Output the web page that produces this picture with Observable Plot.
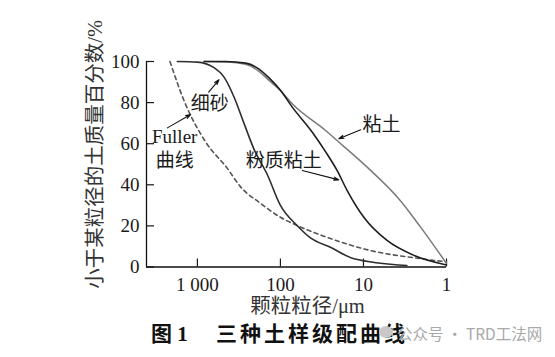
<!DOCTYPE html>
<html><head><meta charset="utf-8">
<script src="https://cdn.jsdelivr.net/npm/d3@7"></script>
<script src="https://cdn.jsdelivr.net/npm/@observablehq/plot@0.6"></script>
<style>
body{margin:0;background:#fff;}
#wrap{position:relative;width:555px;height:357px;overflow:hidden;background:#fff;}
#wrap svg{display:block;}
.cap{position:absolute;top:322px;line-height:21px;font-size:21px;font-weight:bold;color:#111;white-space:nowrap;}
.wm{position:absolute;top:324px;left:397px;line-height:18px;font-size:15.5px;color:#a9a9a9;font-family:'Noto Sans CJK SC',sans-serif;white-space:nowrap;}
.wmi{position:absolute;top:326px;left:379px;width:14px;height:12px;border-radius:50%;background:#c8c8c8;}
</style></head><body><div id="wrap"></div>
<script>
// ---- data ----
const xDomain = [4100, 1];
const yTicks = [0, 20, 40, 60, 80, 100];
const xTicks = [1000, 100, 10, 1];
const xTickLabels = ["1 000", "100", "10", "1"];

const fullerD = [2140, 1450, 800, 436, 302, 174, 100, 63, 30, 8.2, 2, 1];
const fullerP = [100, 81, 61, 48, 39, 31, 24.2, 20.2, 15, 8, 4, 2.5];

const sandD = [1740, 1000, 630, 480, 360, 275, 209, 144, 100, 63, 43, 25, 13, 3];
const sandP = [100, 99.7, 97, 92.5, 82.5, 70, 57.5, 45, 30, 20.2, 14, 9.6, 4, 0.7];

const siltyD = [830, 457, 262, 181, 137, 100, 72, 41.3, 28.5, 20.8, 15.7, 9.9, 5.2, 2.45, 1];
const siltyP = [100, 100, 99.2, 96.3, 92, 86, 77.8, 65.6, 56, 47, 37.2, 24.2, 12.9, 5.6, 1];

const clayD = [830, 457, 262, 181, 137, 100, 72, 28.6, 18.8, 8.2, 4.7, 3.9, 2.05, 1];
const clayP = [100, 99.8, 98.6, 95.2, 90.8, 85.9, 79.4, 66.4, 60, 47, 37.5, 34, 19.4, 1.7];

const labelCJK = ["细砂", "曲线", "粉质粘土", "粘土"];
const labelCJKD = [711, 1876, 91.5, 6.06];
const labelCJKP = [79.6, 51.8, 51.8, 69.3];
const labelLatin = ["Fuller"];
const labelLatinD = [1876];
const labelLatinP = [63.3];

const arrowD1 = [731, 2296, 54.5, 10.8];
const arrowP1 = [85.1, 67.7, 47, 66.8];
const arrowD2 = [550, 1205, 19.8, 19.8];
const arrowP2 = [91.1, 74.2, 42.4, 62.4];

const yLabel = "小于某粒径的土质量百分数/%";
const xLabel = "颗粒粒径/μm";

// ---- build ----
const rows = (D, P) => D.map((d, i) => ({d, p: P[i]}));
const fuller = rows(fullerD, fullerP);
const sand = rows(sandD, sandP);
const silty = rows(siltyD, siltyP);
const clay = rows(clayD, clayP);
const cjkLabels = labelCJK.map((t, i) => ({t, d: labelCJKD[i], p: labelCJKP[i]}));
const latLabels = labelLatin.map((t, i) => ({t, d: labelLatinD[i], p: labelLatinP[i]}));
const arrows = arrowD1.map((d, i) => ({x1: d, y1: arrowP1[i], x2: arrowD2[i], y2: arrowP2[i]}));

const serif = "'Liberation Serif','Noto Sans CJK SC',serif";
const cjk = "'Noto Sans CJK SC',sans-serif";

const chart = Plot.plot({
  width: 555, height: 318,
  marginLeft: 146, marginRight: 109, marginTop: 61, marginBottom: 51.5,
  x: {type: "log", domain: xDomain},
  y: {domain: [0, 100]},
  style: {fontFamily: serif, fontSize: "19px", color: "#1a1a1a", background: "#fff"},
  marks: [
    Plot.axisY(yTicks, {tickSize: -8, tickPadding: 15, fontSize: 19, label: null, strokeWidth: 1.2}),
    Plot.axisX(xTicks, {tickSize: -8, tickPadding: 18.5, fontSize: 19, label: null, strokeWidth: 1.2,
      tickFormat: d => xTickLabels[xTicks.indexOf(d)]}),
    Plot.ruleX([xDomain[0]], {stroke: "#111", strokeWidth: 1.3}),
    Plot.ruleY([0], {stroke: "#111", strokeWidth: 1.3}),
    Plot.line(fuller, {x: "d", y: "p", curve: "monotone-x", stroke: "#555", strokeWidth: 1.6, strokeDasharray: "4,3.5"}),
    Plot.line(clay, {x: "d", y: "p", curve: "monotone-x", stroke: "#7a7a7a", strokeWidth: 1.5}),
    Plot.line(sand, {x: "d", y: "p", curve: "monotone-x", stroke: "#2e2e2e", strokeWidth: 1.6}),
    Plot.line(silty, {x: "d", y: "p", curve: "monotone-x", stroke: "#1e1e1e", strokeWidth: 1.6}),
    Plot.arrow(arrows, {x1: "x1", y1: "y1", x2: "x2", y2: "y2", stroke: "#111", strokeWidth: 1.1, headLength: 7, headAngle: 35}),
    Plot.text(cjkLabels, {x: "d", y: "p", text: "t", fontFamily: cjk, fontSize: 19, fill: "#1a1a1a"}),
    Plot.text(latLabels, {x: "d", y: "p", text: "t", fontFamily: serif, fontSize: 19, fill: "#1a1a1a"}),
    Plot.text([yLabel], {frameAnchor: "left", textAnchor: "middle", lineAnchor: "middle", rotate: -90, dx: -51, dy: -10, fontFamily: serif, fontSize: 20.5, fill: "#333"}),
    Plot.text([xLabel], {frameAnchor: "bottom", textAnchor: "middle", lineAnchor: "middle", dx: 11, dy: 39.5, fontFamily: serif, fontSize: 20.5, fill: "#333"})
  ]
});

const wrap = document.getElementById("wrap");
wrap.appendChild(chart);

const c1 = document.createElement("div");
c1.className = "cap";
c1.style.left = "151px";
c1.innerHTML = "<span style=\"font-family:'Noto Sans CJK SC',sans-serif\">图</span><span style=\"font-family:'Liberation Serif',serif\"> 1</span>";
wrap.appendChild(c1);
const c2 = document.createElement("div");
c2.className = "cap";
c2.style.left = "216px";
c2.style.letterSpacing = "3px";
c2.style.fontFamily = "'Noto Sans CJK SC',sans-serif";
c2.textContent = "三种土样级配曲线";
wrap.appendChild(c2);
const wi = document.createElement("div");
wi.className = "wmi";
wrap.appendChild(wi);
const wm = document.createElement("div");
wm.className = "wm";
wm.textContent = "公众号 · TRD工法网";
wrap.appendChild(wm);
</script>
</body></html>
